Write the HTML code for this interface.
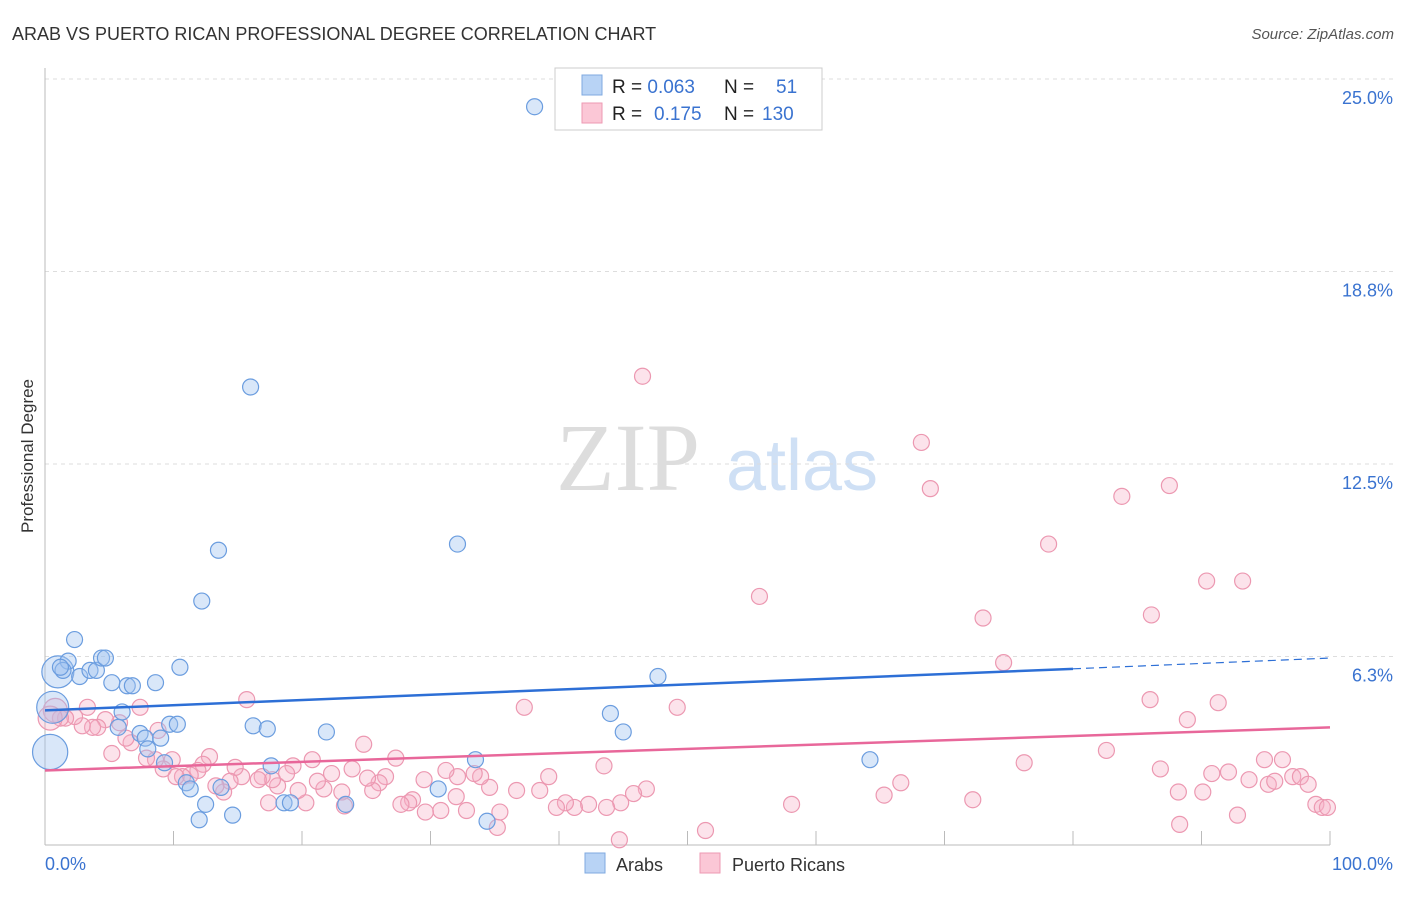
<!DOCTYPE html>
<html><head><meta charset="utf-8"><style>
body{margin:0;background:#fff;font-family:"Liberation Sans",sans-serif;}
svg text{font-family:"Liberation Sans",sans-serif;}
</style></head><body>
<svg id="chart" width="1406" height="892">
<text x="12" y="40" font-size="18" fill="#333">ARAB VS PUERTO RICAN PROFESSIONAL DEGREE CORRELATION CHART</text>
<text x="1394" y="39" font-size="15" fill="#555" text-anchor="end" font-style="italic">Source: ZipAtlas.com</text>
<text x="33" y="456" font-size="17" fill="#333" text-anchor="middle" transform="rotate(-90 33 456)">Professional Degree</text>
<g>
<text x="628" y="490" font-size="96" fill="#ddd" text-anchor="middle" style="font-family:'Liberation Serif',serif">ZIP</text>
<text x="802" y="490" font-size="72" fill="#cfe0f5" text-anchor="middle">atlas</text>
</g>
<g id="grid"></g><g id="pts"></g><g id="lines"></g>
<g>
<rect x="555" y="68" width="267" height="62" fill="#fff" stroke="#ccc"/>
<rect x="582" y="75" width="20" height="20" fill="#b8d3f5" stroke="#7fa9e0"/>
<rect x="582" y="103" width="20" height="20" fill="#fbc7d6" stroke="#ee9ab3"/>
<text x="612" y="93" font-size="19" fill="#222">R = <tspan fill="#3a73d0">0.063</tspan><tspan x="724">N =</tspan><tspan x="776" fill="#3a73d0">51</tspan></text>
<text x="612" y="120" font-size="19" fill="#222">R = <tspan x="654" fill="#3a73d0">0.175</tspan><tspan x="724">N =</tspan><tspan x="762" fill="#3a73d0">130</tspan></text>
</g>
<g>
<rect x="585" y="853" width="20" height="20" fill="#b8d3f5" stroke="#7fa9e0"/>
<text x="616" y="871" font-size="18" fill="#333">Arabs</text>
<rect x="700" y="853" width="20" height="20" fill="#fbc7d6" stroke="#ee9ab3"/>
<text x="732" y="871" font-size="18" fill="#333">Puerto Ricans</text>
</g>
</svg>
<script>
const yTicks=[6.25,12.5,18.75,25];
const yTickLabels=["6.3%","12.5%","18.8%","25.0%"];
const xLabels=["0.0%","100.0%"];
const arabX=[38.1,16.0,13.5,32.1,12.2,2.3,1.0,1.8,1.4,2.7,3.5,4.0,4.4,4.7,5.2,6.4,6.8,8.6,10.5,0.6,0.4,6.0,5.7,7.4,7.8,9.0,8.0,9.3,9.7,10.3,11.0,11.3,12.5,12.0,13.7,14.6,16.2,17.3,17.6,18.6,19.1,21.9,23.4,30.6,33.5,34.4,44.0,45.0,47.7,64.2,1.2];
const arabY=[24.1,15.0,9.7,9.9,8.05,6.8,5.75,6.1,5.8,5.6,5.8,5.8,6.2,6.2,5.4,5.3,5.3,5.4,5.9,4.6,3.15,4.45,3.95,3.75,3.6,3.6,3.25,2.8,4.05,4.05,2.15,1.95,1.45,0.95,2.0,1.1,4.0,3.9,2.7,1.5,1.5,3.8,1.45,1.95,2.9,0.9,4.4,3.8,5.6,2.9,5.9];
const arabW=[1,1,1,1,1,1,2,1,1,1,1,1,1,1,1,1,1,1,1,2,2.2,1,1,1,1,1,1,1,1,1,1,1,1,1,1,1,1,1,1,1,1,1,1,1,1,1,1,1,1,1,1];
const prX=[46.5,68.2,68.9,83.8,87.5,78.1,55.6,90.4,93.2,73.0,86.1,74.6,86.0,91.3,88.9,82.6,76.2,86.8,92.1,90.8,94.9,96.3,93.7,95.2,95.7,97.1,97.7,98.3,88.2,90.1,98.9,99.4,99.8,92.8,88.3,72.2,66.6,65.3,58.1,51.4,49.2,37.3,43.5,46.8,45.8,44.8,43.7,42.3,41.2,40.5,39.8,39.2,38.5,36.7,35.4,35.2,34.6,33.9,33.4,32.1,31.2,32.0,32.8,30.8,29.6,29.5,28.6,28.3,27.7,27.3,26.5,26.0,25.5,25.1,24.8,23.9,23.1,23.3,22.3,21.7,21.2,20.8,20.3,19.7,19.3,18.8,18.1,17.7,17.4,16.9,16.6,15.7,15.3,14.8,14.4,13.9,13.3,12.8,12.3,11.9,11.3,10.7,10.2,9.9,9.2,8.6,8.8,7.9,7.4,6.7,6.3,5.8,5.2,4.7,4.1,3.7,3.3,2.9,2.3,1.6,1.2,0.8,0.4,44.7];
const prY=[15.35,13.2,11.7,11.45,11.8,9.9,8.2,8.7,8.7,7.5,7.6,6.05,4.85,4.75,4.2,3.2,2.8,2.6,2.5,2.45,2.9,2.9,2.25,2.1,2.2,2.35,2.35,2.1,1.85,1.85,1.45,1.35,1.35,1.1,0.8,1.6,2.15,1.75,1.45,0.6,4.6,4.6,2.7,1.95,1.8,1.5,1.35,1.45,1.35,1.5,1.35,2.35,1.9,1.9,1.2,0.7,2.0,2.35,2.45,2.35,2.55,1.7,1.25,1.25,1.2,2.25,1.6,1.5,1.45,2.95,2.35,2.15,1.9,2.3,3.4,2.6,1.85,1.4,2.45,1.95,2.2,2.9,1.5,1.9,2.7,2.45,2.05,2.25,1.5,2.35,2.25,4.85,2.35,2.65,2.2,1.85,2.05,3.0,2.75,2.55,2.4,2.35,2.35,2.9,2.6,2.9,3.85,2.95,4.6,3.45,3.6,4.1,3.1,4.2,3.95,3.95,4.6,4.0,4.3,4.25,4.25,4.5,4.25,0.3];
const arabTrend=[4.5,5.85,6.2];
const prTrend=[2.55,3.95];
const NS="http://www.w3.org/2000/svg";
const X0=45,X1=1330,Y0=849,PPU=30.8;
const sx=v=>X0+(X1-X0)*v/100, sy=v=>Y0-v*PPU;
function mk(t,a,p){const e=document.createElementNS(NS,t);for(const k in a)e.setAttribute(k,a[k]);p.appendChild(e);return e;}
const grid=document.getElementById('grid'),svg=document.getElementById('chart');
yTicks.forEach((t,i)=>{
 const l=mk('line',{x1:X0,x2:1394,y1:sy(t),y2:sy(t),stroke:'#ddd','stroke-dasharray':'4,4'},grid);
 
 
 const tx=mk('text',{x:1393,y:sy(t)+25,'font-size':18,fill:'#3a73d0','text-anchor':'end'},grid);
 tx.textContent=yTickLabels[i];
 
 
});
const ax=mk('line',{x1:X0,x2:X1,y1:845,y2:845,stroke:'#bbb'},grid);


const ay=mk('line',{x1:X0,x2:X0,y1:68,y2:845,stroke:'#bbb'},grid);


for(let i=1;i<=10;i++){const t=mk('line',{x1:sx(i*10),x2:sx(i*10),y1:831,y2:845,stroke:'#bbb'},grid);
 
 }
xLabels.forEach((s,i)=>{const t=mk('text',{x:i?1393:45,y:870,'font-size':18,fill:'#3a73d0','text-anchor':i?'end':'start'},grid);t.textContent=s;
 
 });
const pts=document.getElementById('pts');
prX.forEach((x,i)=>{const c=mk('circle',{cx:sx(x),cy:sy(prY[i]),r:x<1?12:8,fill:'rgba(246,176,198,0.35)',stroke:'#ec98b1','stroke-width':1.2},pts);
 
 });
arabX.forEach((x,i)=>{const c=mk('circle',{cx:sx(x),cy:sy(arabY[i]),r:8*arabW[i],fill:'rgba(160,196,240,0.4)',stroke:'#6b9ddf','stroke-width':1.2},pts);
 
 });
const lines=document.getElementById('lines');
let l=mk('line',{x1:sx(0),y1:sy(arabTrend[0]),x2:sx(80),y2:sy(arabTrend[1]),stroke:'#2d6fd6','stroke-width':2.5},lines);


l=mk('line',{x1:sx(80),y1:sy(arabTrend[1]),x2:sx(100),y2:sy(arabTrend[2]),stroke:'#2d6fd6','stroke-width':1.2,'stroke-dasharray':'8,5'},lines);


l=mk('line',{x1:sx(0),y1:sy(prTrend[0]),x2:sx(100),y2:sy(prTrend[1]),stroke:'#e8679a','stroke-width':2.5},lines);


</script>
</body></html>
